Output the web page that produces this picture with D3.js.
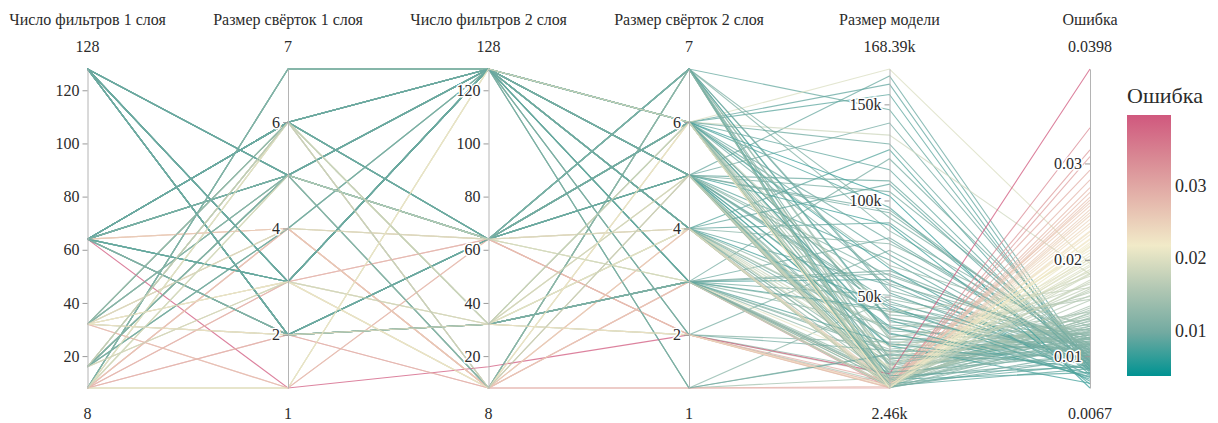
<!DOCTYPE html>
<html>
<head>
<meta charset="utf-8">
<script src="https://cdn.jsdelivr.net/npm/d3@7"></script>
<style>
  body { margin: 0; background: #fff; }
  .halo { paint-order: stroke; stroke: #fff; stroke-width: 3px; stroke-linejoin: round; }
</style>
</head>
<body>
<svg id="chart" width="1218" height="423" font-family="'Liberation Serif', 'Times New Roman', 'DejaVu Serif', serif"></svg>
<script>
const SERIF = "'Liberation Serif', 'Times New Roman', 'DejaVu Serif', serif";

// Axis titles
const dimensionTitles = ["Число фильтров 1 слоя", "Размер свёрток 1 слоя", "Число фильтров 2 слоя",
                         "Размер свёрток 2 слоя", "Размер модели", "Ошибка"];

// Network configurations (filters / kernel size of both conv layers)
const cfgFilters1 = [128,128,128,64,64,64,64,8,64,32,16,16,32,16,8,32,16,32,8,8,8,8,32,64,64,16,32,16,8,32,128];
const cfgKernel1  = [5,2,3,6,5,3,2,7,6,6,5,6,5,4,6,4,3,2,1,4,3,2,1,1,4,6,3,5,5,6,2];
const cfgFilters2 = [128,64,128,128,64,128,32,128,64,128,64,32,8,128,32,64,32,32,128,8,64,8,64,16,8,8,8,128,64,8,32];
const cfgKernel2  = [4,6,5,6,7,3,3,5,5,4,6,6,7,1,4,4,5,2,6,3,2,1,2,2,4,5,6,2,3,7,3];

// Trained runs: configuration used, model size (thousands of parameters), test error
const runConfig = [2,3,1,4,8,18,11,0,5,3, 2,7,1,8,4,0,12,5,9,27, 3,2,10,6,8,1,0,4,30,13,
  7,2,5,9,3,12,6,8,0,1, 29,4,27,2,10,5,30,13,3,7, 6,8,0,1,12,4,2,9,27,5,
  3,6,30,13,0,8,7,1,2,4, 12,6,10,3,29,3,2,1,0,4, 8,5,11,14,15,16,17,18,25,26,
  28,11,14,15,16,17,18,25,26,28, 11,14,9,10,15,16,24,14,17,26, 28,25,11,23,19,20,21,22,24,19,
  20,21,22,24,19,0,1,2,3,4, 5,6,7,8,9,10,12,13,27,30, 0,3,2,1,5,8,4,7,6,3,
  2,0,1,4,6,14,15,16,17,26, 28,25,18,11];

const runSize = [164.8,160.5,155.1,147.2,140.3,168.39,134.0,126.4,121.7,116.0,
  110.2,104.6,96.3,95.1,91.0,88.4,84.2,80.6,77.5,74.1,
  71.8,69.0,66.2,63.5,60.8,58.3,55.9,53.2,50.7,48.6,
  46.1,44.0,42.3,40.5,38.7,36.9,35.2,33.6,32.1,30.4,
  29.0,27.7,26.3,25.1,23.8,22.6,21.4,20.3,19.2,18.1,
  17.2,16.3,15.4,14.6,13.8,13.0,12.3,11.6,10.9,10.2,
  9.6,9.0,8.4,7.8,7.2,6.7,6.2,5.7,5.2,4.8,
  4.4,4.0,3.6,3.3,3.0,102.4,87.1,64.7,45.3,37.8,
  24.5,58.9,28.4,20.6,16.9,12.7,9.4,7.1,5.5,4.2,
  3.4,2.9,2.6,2.46,3.9,5.0,6.4,8.1,10.5,14.2,
  18.6,24.0,33.0,41.8,2.8,2.5,3.1,4.6,2.7,3.7,
  6.0,2.55,4.9,9.8,2.46,4.0,2.5,6.3,3.5,7.4,
  2.6,3.2,2.9,5.3,3.8,2.9,3.5,2.7,4.6,6.9,
  5.9,7.5,8.8,10.6,12.0,14.9,17.7,19.8,22.0,25.6,
  28.1,31.0,34.5,39.0,43.4,47.5,52.0,56.7,61.9,79.2,
  93.6,108.5,129.4,2.6,3.1,3.0,4.3,5.6,3.6,2.47,
  2.9,3.9,2.6,6.6];

const runError = [.0093,.0088,.0085,.0091,.0097,.0196,.0185,.0083,.0102,.0089,
  .0094,.0105,.0081,.0099,.0108,.0087,.0112,.0095,.0118,.0103,
  .0092,.0086,.0131,.0107,.0111,.0098,.0090,.0114,.0101,.0121,
  .0109,.0096,.0119,.0127,.0100,.0113,.0122,.0105,.0117,.0093,
  .0138,.0124,.0115,.0108,.0146,.0128,.0112,.0133,.0119,.0125,
  .0131,.0116,.0129,.0104,.0136,.0122,.0113,.0142,.0127,.0134,
  .0110,.0139,.0120,.0144,.0131,.0126,.0137,.0115,.0123,.0140,
  .0148,.0150,.0152,.0129,.0145,.0067,.0071,.0074,.0076,.0078,
  .0072,.0080,.0162,.0175,.0188,.0201,.0168,.0214,.0193,.0207,
  .0221,.0235,.0179,.0229,.0242,.0158,.0186,.0198,.0172,.0210,
  .0166,.0183,.0159,.0171,.0252,.0218,.0246,.0226,.0204,.0238,
  .0195,.0249,.0216,.0398,.0337,.0314,.0307,.0293,.0265,.0259,
  .0275,.0283,.0270,.0256,.0262,.0098,.0087,.0104,.0091,.0083,
  .0111,.0096,.0089,.0101,.0118,.0124,.0107,.0093,.0099,.0087,
  .0105,.0082,.0079,.0102,.0085,.0094,.0088,.0117,.0106,.0096,
  .0100,.0090,.0095,.0120,.0112,.0201,.0190,.0177,.0230,.0213,
  .0185,.0170,.0222,.0163];

// Tick values per axis
const filterTicks = [20, 40, 60, 80, 100, 120];
const kernelTicks = [2, 4, 6];
const sizeTicks = [50, 100, 150];
const errorTicks = [0.01, 0.02, 0.03];
const colorbarTicks = [0.01, 0.02, 0.03];

// Colour range of the error scale
const colorMin = 0.0037, colorMax = 0.0398;
const tealrose = ["#009392", "#72aaa1", "#b1c7b3", "#f1eac8", "#e5b9ad", "#d98994", "#d0587e"];

// Assemble rows
const rows = runConfig.map((c, i) => [
  cfgFilters1[c], cfgKernel1[c], cfgFilters2[c], cfgKernel2[c], runSize[i], runError[i]
]);

const svg = d3.select("#chart");
const yTop = 69, yBottom = 388;
const textColor = "#2b2b2b";

const x = d3.scalePoint().domain(d3.range(6)).range([87.5, 1090]);

const fmtInt = d3.format("d");
const dims = [
  { ticks: filterTicks, tf: fmtInt, rf: fmtInt },
  { ticks: kernelTicks, tf: fmtInt, rf: fmtInt },
  { ticks: filterTicks, tf: fmtInt, rf: fmtInt },
  { ticks: kernelTicks, tf: fmtInt, rf: fmtInt },
  { ticks: sizeTicks, tf: v => v + "k", rf: v => d3.format(".2f")(v) + "k" },
  { ticks: errorTicks, tf: v => d3.format(".2f")(v), rf: v => d3.format(".4f")(v) }
];
dims.forEach((d, i) => {
  d.extent = d3.extent(rows, r => r[i]);
  d.y = d3.scaleLinear().domain(d.extent).range([yBottom, yTop]);
});

const stops = tealrose.map((_, i) => colorMin + (colorMax - colorMin) * i / (tealrose.length - 1));
const color = d3.scaleLinear().domain(stops).range(tealrose).interpolate(d3.interpolateRgb).clamp(true);

// Polylines
const line = d3.line();
svg.append("g")
  .attr("fill", "none")
  .selectAll("path")
  .data(rows)
  .join("path")
  .attr("d", r => line(r.map((v, i) => [x(i), dims[i].y(v)])))
  .attr("stroke", r => color(r[5]))
  .attr("stroke-width", 1.1)
  .attr("stroke-opacity", 0.75);

function label(g, txt, y, size) {
  return g.append("text").attr("text-anchor", "middle").attr("y", y)
    .style("font-family", SERIF).style("font-size", size + "px").attr("fill", textColor).text(txt);
}

// Axes
dims.forEach((d, i) => {
  const g = svg.append("g").attr("transform", `translate(${x(i)},0)`);
  const axis = d3.axisLeft(d.y).tickValues(d.ticks).tickFormat(d.tf).tickSizeInner(5).tickSizeOuter(0).tickPadding(3);
  g.call(axis);
  g.attr("font-family", null).attr("font-size", null);
  g.select(".domain").attr("stroke", "#b4b4b4").attr("stroke-width", 1);
  g.selectAll(".tick line").attr("stroke", "#9a9a9a");
  g.selectAll(".tick text").attr("class", "halo")
    .style("font-family", SERIF).style("font-size", "16px").attr("fill", textColor);

  label(g, dimensionTitles[i], 25, 16);
  label(g, d.rf(d.extent[1]), 52, 16);
  label(g, d.rf(d.extent[0]), 419, 16);
});

// Colour bar
const cbX = 1127, cbTop = 115, cbBottom = 376, cbW = 44;
const grad = svg.append("defs").append("linearGradient")
  .attr("id", "errGrad").attr("x1", 0).attr("y1", 1).attr("x2", 0).attr("y2", 0);
tealrose.forEach((c, i) => {
  grad.append("stop").attr("offset", i / (tealrose.length - 1)).attr("stop-color", c);
});
svg.append("rect").attr("x", cbX).attr("y", cbTop).attr("width", cbW).attr("height", cbBottom - cbTop)
  .attr("fill", "url(#errGrad)");
const cbScale = d3.scaleLinear().domain([colorMin, colorMax]).range([cbBottom, cbTop]);
svg.append("g").selectAll("text").data(colorbarTicks).join("text")
  .attr("x", cbX + cbW + 4).attr("y", v => cbScale(v)).attr("dy", "0.35em")
  .style("font-family", SERIF).style("font-size", "18px").attr("fill", textColor)
  .text(v => d3.format(".2f")(v));
svg.append("text").attr("x", cbX).attr("y", 103)
  .style("font-family", SERIF).style("font-size", "22px").attr("fill", textColor).text("Ошибка");
</script>
</body>
</html>
